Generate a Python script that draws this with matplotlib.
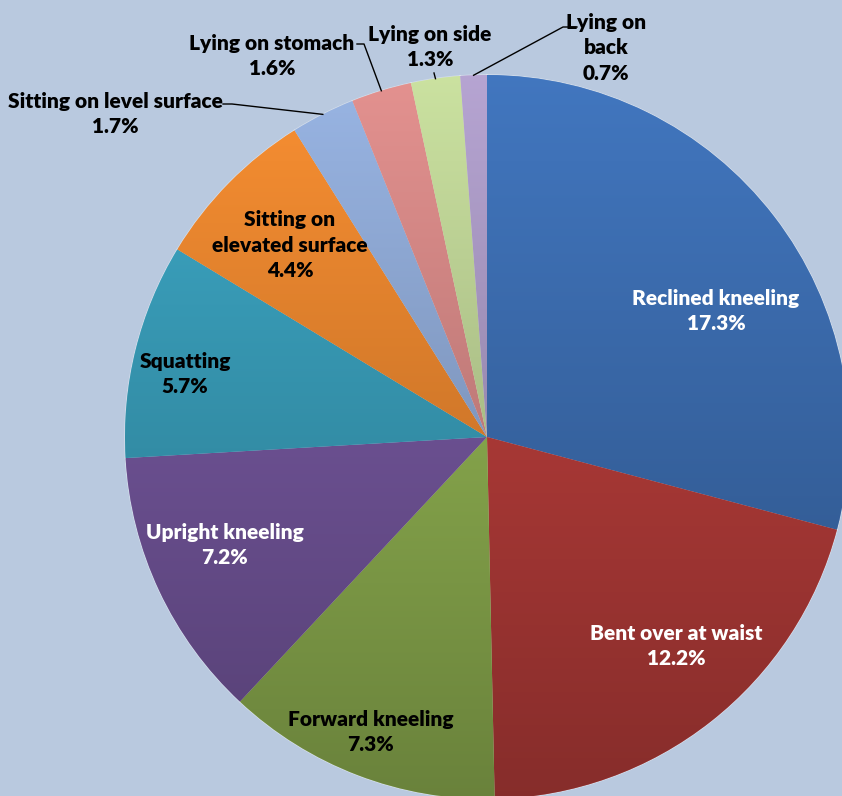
import matplotlib
matplotlib.use("Agg")
import matplotlib.pyplot as plt
import matplotlib.colors as mcolors
import numpy as np

# Data
postures = ["Reclined kneeling", "Bent over at waist", "Forward kneeling",
            "Upright kneeling", "Squatting", "Sitting on\nelevated surface",
            "Sitting on level surface", "Lying on stomach", "Lying on side",
            "Lying on\nback"]
percent = [17.3, 12.2, 7.3, 7.2, 5.7, 4.4, 1.7, 1.6, 1.3, 0.7]

colors = ["#3F72B8", "#C0403D", "#97BA55", "#7A5BA5", "#3BA3C0",
          "#F08A30", "#93AEDB", "#DB8C8A", "#C3D99A", "#AF9ECA"]
text_colors = ["white", "white", "black", "white", "black",
               "black", "black", "black", "black", "black"]

# layout (pixel coords, y from top)
W, H = 842, 796
cx, cy, R = 487, 437, 362
label_pos = [(716, 311), (676, 646), (371, 732), (225, 545), (185, 374),
             (290, 245), (115, 114), (272, 56), (430, 47), (606, 48)]
# leader line start points (near the label), None = no leader
leader_start = [None, None, None, None, None, None,
                [(223, 104), (232, 104)],
                [(357, 44), (364, 44)],
                [(434, 73)],
                [(577, 27), (563, 27)]]

bg = "#B9C9DF"
plt.rcParams['font.family'] = ['Lato', 'DejaVu Sans']

fig = plt.figure(figsize=(W / 100, H / 100), dpi=100, facecolor=bg)
ax = fig.add_axes([0, 0, 1, 1])
ax.set_facecolor(bg)

wedges, _ = ax.pie(percent, colors=colors, startangle=90, counterclock=False,
                   center=(cx, H - cy), radius=R,
                   wedgeprops=dict(edgecolor=(1, 1, 1, 0.35), linewidth=1.2))

# vertical shading: lighter at the top of the pie, darker at the bottom
n = 256
shade = np.linspace(0.70, 1.04, n)
for w, c in zip(wedges, colors):
    rgb = np.array(mcolors.to_rgb(c))
    arr = np.clip(rgb[None, None, :] * shade[:, None, None], 0, 1)
    im = ax.imshow(arr, extent=[cx - R, cx + R, H - cy - R, H - cy + R],
                   origin='lower', aspect='auto', zorder=1.5, interpolation='bilinear')
    im.set_clip_path(w)
    w.set_zorder(1)

# labels
for i, (lab, p) in enumerate(zip(postures, percent)):
    x, y = label_pos[i]
    ax.text(x, H - y, f"{lab}\n{p}%", ha="center", va="center",
            fontsize=15, fontweight="heavy", color=text_colors[i],
            linespacing=1.38, zorder=5)
    if leader_start[i] is not None:
        w = wedges[i]
        mid = np.deg2rad((w.theta1 + w.theta2) / 2)
        ex, ey = cx + R * np.cos(mid), (H - cy) + R * np.sin(mid)
        pts = [(px, H - py) for px, py in leader_start[i]] + [(ex, ey)]
        xs, ys = zip(*pts)
        ax.plot(xs, ys, color="black", lw=1, zorder=4)

ax.set_xlim(0, W)
ax.set_ylim(0, H)
ax.set_aspect('equal')
ax.axis('off')

fig.savefig("out.png", dpi=100, facecolor=bg)
